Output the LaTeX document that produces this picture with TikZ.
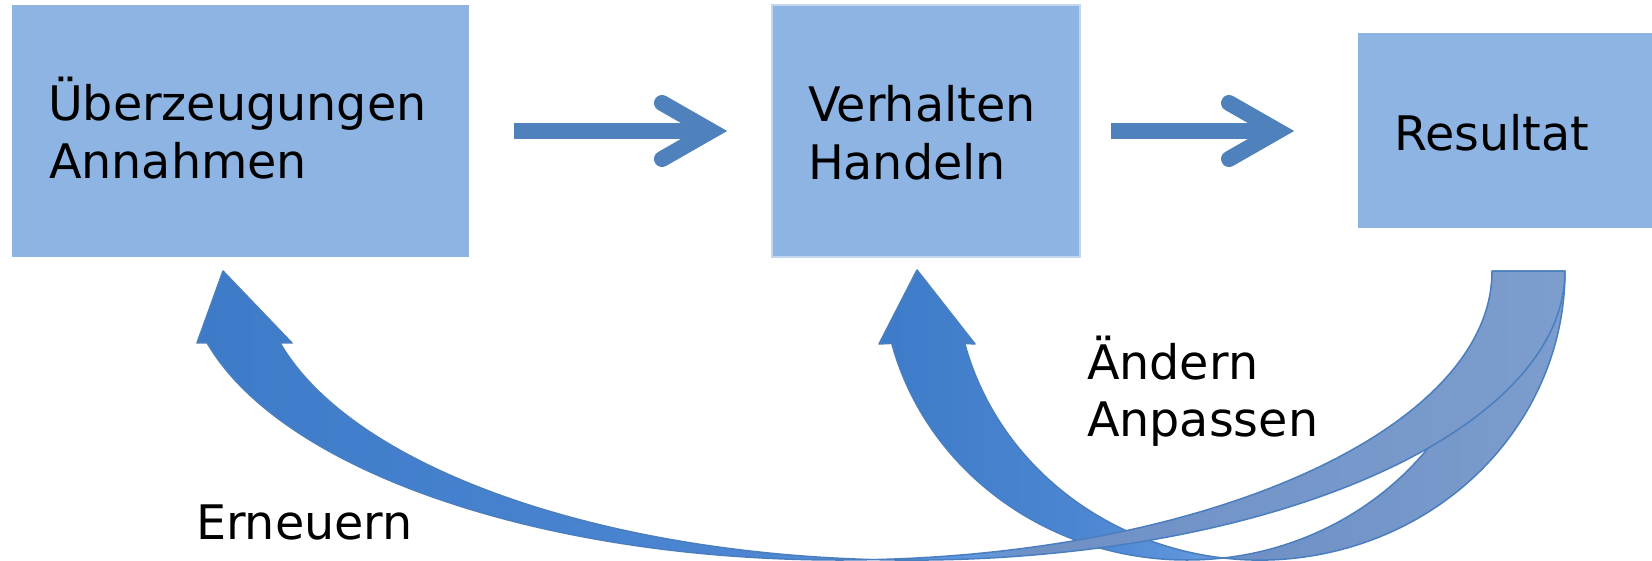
\documentclass[tikz,border=0pt]{standalone}
\usepackage{fontspec}
\setmainfont{DejaVu Sans}
\usetikzlibrary{calc}
\definecolor{boxfill}{HTML}{8EB4E3}
\definecolor{boxedge}{HTML}{C3D6EF}
\definecolor{arrowblue}{HTML}{4F81BD}
\definecolor{outl}{HTML}{4A7EBF}
\definecolor{cA}{HTML}{3D7BC8}
\definecolor{cB}{HTML}{4C86D2}
\definecolor{cC}{HTML}{6198DE}
\definecolor{cD}{HTML}{6E90C5}
\definecolor{cE}{HTML}{7C9DCD}
\pgfdeclarehorizontalshading{shadeA}{100bp}{color(0bp)=(cA); color(25bp)=(cA); color(45bp)=(cB); color(53.5bp)=(cC); color(55.5bp)=(cD); color(75bp)=(cE); color(100bp)=(cE)}
\pgfdeclarehorizontalshading{shadeB}{100bp}{color(0bp)=(cA); color(25bp)=(cA); color(40bp)=(cB); color(48.5bp)=(cC); color(51bp)=(cD); color(75bp)=(cE); color(100bp)=(cE)}
\begin{document}
\begin{tikzpicture}[x=0.5pt,y=-0.5pt,
  box/.style={fill=boxfill, draw=none, inner sep=0pt, outer sep=0pt},
  lbl/.style={anchor=base west, inner sep=0pt, outer sep=0pt, font=\fontsize{23.8}{29}\selectfont, text=black},
  shaft/.style={draw=arrowblue, line width=8pt, line cap=butt},
  barb/.style={draw=arrowblue, line width=8pt, line cap=round, line join=miter},
  curvearrow/.style={draw=outl, line width=0.75pt, line join=round}]
\useasboundingbox (0,0) rectangle (1652,561);
\fill[white] (0,0) rectangle (1652,561);
% boxes
\node[box, minimum width=228.5pt, minimum height=126pt] (ueb) at (240.5,131) {};
\node[box, draw=boxedge, line width=1pt, minimum width=154pt, minimum height=126pt] (ver) at (926,131) {};
\node[box, anchor=west, minimum width=147pt, minimum height=97.5pt] (res) at (1358,130.5) {};
% labels
\node[lbl] (t1) at (48,121) {Überzeugungen};
\node[lbl] (t2) at (49,179) {Annahmen};
\node[lbl] (t3) at (808,122) {Verhalten};
\node[lbl] (t4) at (808,180) {Handeln};
\node[lbl] (t5) at (1394,151) {Resultat};
\node[lbl] (t6) at (1087,379) {Ändern};
\node[lbl] (t7) at (1087,436) {Anpassen};
\node[lbl] (t8) at (196,539) {Erneuern};
% straight arrows
\coordinate (a1s) at ($(ueb.east)+(45,0)$);
\coordinate (a1t) at ($(ver.west)+(-61,0)$);
\draw[shaft] (a1s) -- (a1t);
\draw[barb] ($(a1t)+(-49,-28)$) -- (a1t) -- ($(a1t)+(-49,28)$);
\coordinate (a2s) at ($(ver.east)+(31,0)$);
\coordinate (a2t) at ($(res.west)+(-80,0.5)$);
\draw[shaft] (a2s) -- (a2t);
\draw[barb] ($(a2t)+(-49,-28)$) -- (a2t) -- ($(a2t)+(-49,28)$);
% curved arrow to Verhalten
\shadedraw[shading=shadeB, curvearrow] (1492,271) arc[start angle=0, end angle=165.5, x radius=305, y radius=289]
  -- (879,344) -- (917,270) -- (975,344) -- (964.7,343.4)
  arc[start angle=165.5, end angle=0, x radius=305, y radius=289] -- cycle;
% curved arrow to Ueberzeugungen
\shadedraw[shading=shadeA, curvearrow] (1492,271) arc[start angle=0, end angle=165.6, x radius=652.7, y radius=289]
  -- (197,343) -- (223,271) -- (292,343) -- (280.1,342.9)
  arc[start angle=165.6, end angle=0, x radius=652.7, y radius=289] -- cycle;
\end{tikzpicture}
\end{document}
